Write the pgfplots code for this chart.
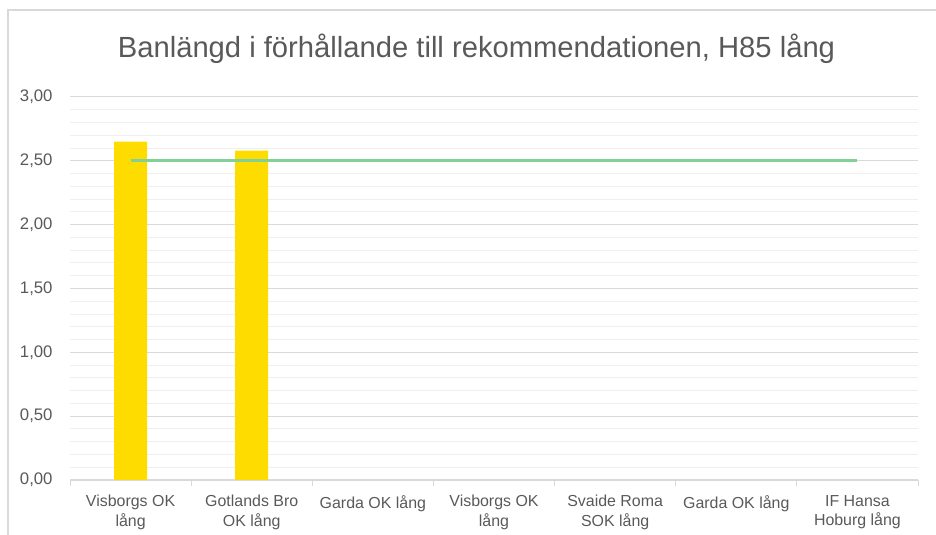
\documentclass[border=0pt]{standalone}
\usepackage{pgfplots}
\pgfplotsset{compat=1.18}
\usepackage{fontspec}
\setmainfont{Liberation Sans}
\definecolor{txt}{HTML}{595959}
\definecolor{majgrid}{HTML}{D9D9D9}
\definecolor{mingrid}{HTML}{EFEFEF}
\definecolor{baryellow}{HTML}{FFDC00}
\definecolor{linegreen}{HTML}{80D196}
\begin{document}
\begin{tikzpicture}[x=1bp,y=1bp]
\path[use as bounding box] (0,0) rectangle (936,535);
\draw[majgrid, line width=1.2bp] (8,-1) -- (8,525) -- (937,525);
\node[anchor=base, text=txt, font=\fontsize{29.3}{34}\selectfont] at (476.5,477) {Banlängd i förhållande till rekommendationen, H85 lång};
\begin{axis}[
  at={(70bp,55bp)}, anchor=south west,
  scale only axis, width=848bp, height=383bp,
  xmin=0.5, xmax=7.5, ymin=0, ymax=3,
  xtick={1,...,7},
  xticklabels={{Visborgs OK\\lång},{Gotlands Bro\\OK lång},{Garda OK lång},{Visborgs OK\\lång},{Svaide Roma\\SOK lång},{Garda OK lång},{IF Hansa\\Hoburg lång}},
  minor xtick={0.5,1.5,...,7.5},
  ytick={0,0.5,...,3},
  minor ytick={0.1,0.2,...,2.95},
  yticklabels={{0,00},{0,50},{1,00},{1,50},{2,00},{2,50},{3,00}},
  ymajorgrids, yminorgrids,
  major grid style={majgrid, line width=1bp},
  minor grid style={mingrid, line width=1bp},
  axis x line*=bottom, axis y line*=left,
  x axis line style={majgrid, line width=1.2bp, -},
  y axis line style={draw=none},
  tick align=outside,
  major x tick style={draw=none},
  minor x tick style={majgrid, line width=1bp},
  minor tick length=6bp,
  major y tick style={draw=none},
  minor y tick style={draw=none},
  xticklabel style={align=center, text=txt, font=\fontsize{16}{19.5}\selectfont, inner sep=0pt, yshift=-11bp},
  yticklabel style={text=txt, font=\fontsize{16.8}{19}\selectfont, inner sep=0pt, xshift=-13bp},
  clip=false,
]
\addplot[ybar, bar width=33bp, fill=baryellow, draw=none] coordinates {(1,2.65) (2,2.58)};
\addplot[linegreen, line width=3bp, no marks] coordinates {(1,2.5) (2,2.5) (3,2.5) (4,2.5) (5,2.5) (6,2.5) (7,2.5)};
\end{axis}
\end{tikzpicture}
\end{document}
